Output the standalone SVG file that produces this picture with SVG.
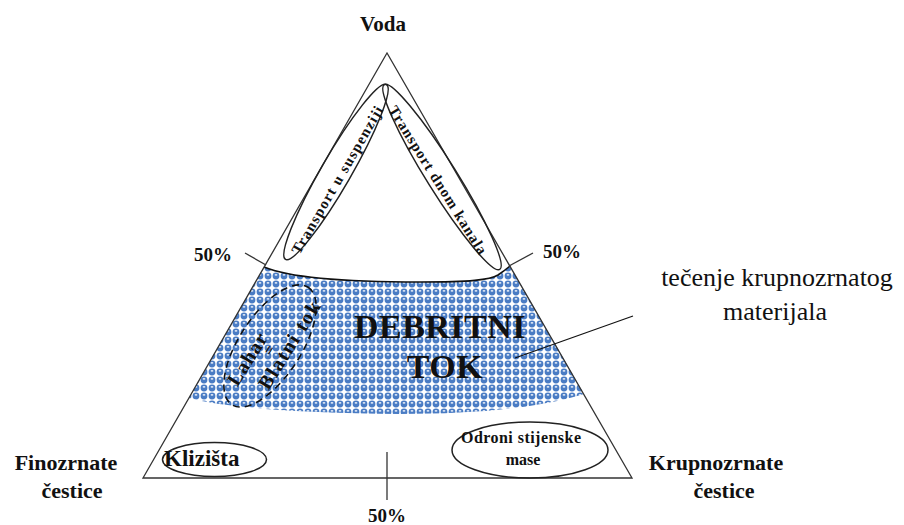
<svg xmlns="http://www.w3.org/2000/svg" width="904" height="525" viewBox="0 0 904 525">
<style>
.t{font-family:"Liberation Serif","Times New Roman",serif;fill:#111}
.b{font-weight:bold}
.ln{stroke:#333;stroke-width:1.3;fill:none}
.el{stroke:#222;stroke-width:1.5;fill:none}
.dash{stroke:#111;stroke-width:1.6;fill:none;stroke-dasharray:7 5}
</style>
<defs>
<pattern id="dots" width="8" height="8" patternUnits="userSpaceOnUse">
<rect width="8" height="8" fill="#ffffff"/>
<circle cx="4" cy="4" r="3.4" fill="#4a7cc4"/>
<ellipse cx="4" cy="2.9" rx="1.4" ry="0.8" fill="#e4ecf8"/>
</pattern>
</defs>
<rect width="904" height="525" fill="#fff"/>

<g id="band">
<path d="M264,267 C290,278 350,282 420,282 C470,282 490,280 498,275 Q504,271 510,266 L584,394 Q520,414 400,414 Q240,412 189,398 Z" fill="url(#dots)"/>
<path d="M264,267 C290,278 350,282 420,282 C470,282 490,280 498,275 Q504,271 510,266" stroke="#111" stroke-width="1.6" fill="none"/>
</g>

<g id="triangle">
<path class="ln" d="M387,53 L143,478 L632,478 Z"/>
</g>

<g id="connectors">
<line class="ln" x1="245" y1="253" x2="266" y2="265"/>
<line class="ln" x1="533" y1="253" x2="509" y2="266"/>
<line class="ln" x1="387" y1="452" x2="387" y2="500"/>
<line x1="515" y1="358" x2="633" y2="316" stroke="#111" stroke-width="1.2"/>
</g>

<g id="voda"><text class="t b" x="383" y="31" font-size="21" text-anchor="middle">Voda</text></g>
<g id="finozrnate">
<text class="t b" x="66" y="470" font-size="22" text-anchor="middle">Finozrnate</text>
<text class="t b" x="72" y="498" font-size="22" text-anchor="middle">čestice</text>
</g>
<g id="krupnozrnate">
<text class="t b" x="716" y="470" font-size="22" text-anchor="middle">Krupnozrnate</text>
<text class="t b" x="724" y="498" font-size="22" text-anchor="middle">čestice</text>
</g>
<g id="p50">
<text class="t b" x="213" y="261" font-size="19" text-anchor="middle">50%</text>
<text class="t b" x="562" y="258" font-size="19" text-anchor="middle">50%</text>
<text class="t b" x="387" y="522" font-size="19" text-anchor="middle">50%</text>
</g>
<g id="tecenje">
<text class="t" x="777" y="286" font-size="26" text-anchor="middle">tečenje krupnozrnatog</text>
<text class="t" x="775" y="320" font-size="26" text-anchor="middle">materijala</text>
</g>

<g id="suspenzija">
<ellipse class="el" cx="336" cy="172" rx="101" ry="15" transform="rotate(-60 336 172)"/>
<text class="t b" font-size="15" text-anchor="middle" dy="0.35em" textLength="168" lengthAdjust="spacing" transform="translate(337,180) rotate(-60)">Transport u suspenziji</text>
</g>
<g id="kanal">
<ellipse class="el" cx="442" cy="177" rx="109" ry="15" transform="rotate(58 442 177)"/>
<text class="t b" font-size="15" text-anchor="middle" dy="0.35em" textLength="172" lengthAdjust="spacing" transform="translate(438,180) rotate(58)">Transport dnom kanala</text>
</g>

<g id="debritni">
<text class="t b" x="440" y="338" font-size="34" text-anchor="middle" letter-spacing="0.5">DEBRITNI</text>
<text class="t b" x="445" y="378" font-size="34" text-anchor="middle" letter-spacing="0.5">TOK</text>
</g>

<g id="lahar">
<ellipse class="dash" cx="270" cy="346" rx="70" ry="31" transform="rotate(-57 270 346)"/>
<text class="t b" font-size="20" text-anchor="middle" dy="0.35em" textLength="58" lengthAdjust="spacing" transform="translate(247,359) rotate(-58)">Lahar</text>
<text class="t b" font-size="16" text-anchor="middle" dy="0.35em" transform="translate(269,350) rotate(-58)">=</text>
<text class="t b" font-size="20" text-anchor="middle" dy="0.35em" textLength="100" lengthAdjust="spacing" transform="translate(289,345) rotate(-58)">Blatni tok</text>
</g>

<g id="klizista">
<ellipse class="el" cx="214.5" cy="459.5" rx="52" ry="17"/>
<text class="t b" x="164" y="466" font-size="23">Klizišta</text>
</g>
<g id="odroni">
<ellipse class="el" cx="530" cy="450" rx="78" ry="28"/>
<text class="t b" x="521" y="443" font-size="16" text-anchor="middle" textLength="120" lengthAdjust="spacing">Odroni stijenske</text>
<text class="t b" x="523" y="465" font-size="16" text-anchor="middle">mase</text>
</g>
</svg>
